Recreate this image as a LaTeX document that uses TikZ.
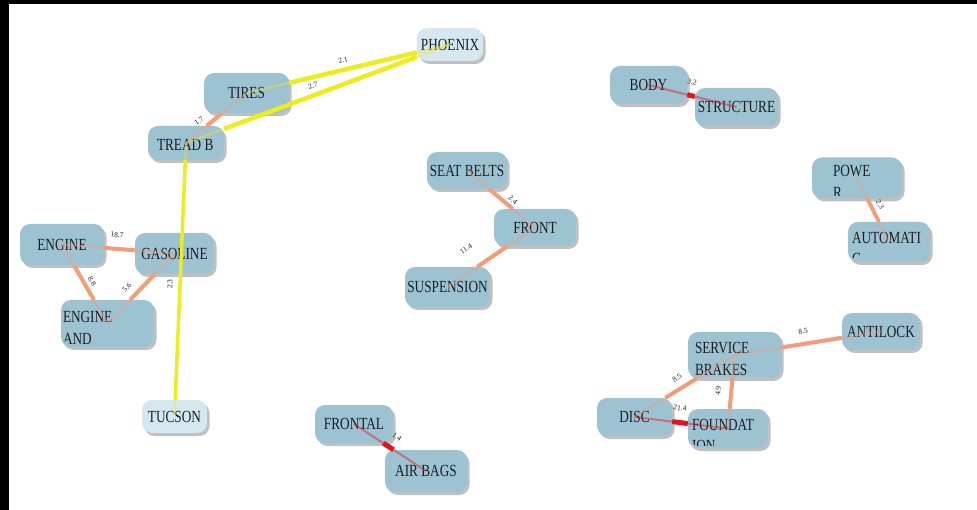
\documentclass[tikz,border=0pt]{standalone}
\usepackage{fontspec}
\setmainfont{Liberation Serif}
\usepackage{graphicx}
\usetikzlibrary{shadows,calc}

\definecolor{boxblue}{HTML}{9DC3D3}
\definecolor{boxpale}{HTML}{D5E8F0}
\definecolor{edgeyellow}{HTML}{ECEC1E}
\definecolor{edgesalmon}{HTML}{F39C78}
\definecolor{edgered}{HTML}{E3141E}
\definecolor{inktext}{HTML}{1A1E22}

\newcommand\boxfont{\fontsize{17}{20}\selectfont}
\newcommand\nlabel[1]{\scalebox{0.78}[1]{#1}}
% two wrapped lines inside a named box, clipped a little above its lower edge
% #1 = box, #2 = left inset, #3 = first baseline below top, #4 = line gap, #5/#6 = lines
\newcommand\wraptext[6]{%
  \begin{scope}
    \clip[rounded corners=10pt] (#1.north west) rectangle ($(#1.south east)+(0,-3)$);
    \node[wrapline] at ($(#1.north west)+(#2,#3)$) {\nlabel{#5}};
    \node[wrapline] at ($(#1.north west)+(#2,#3+#4)$) {\nlabel{#6}};
  \end{scope}}

\tikzset{
  box/.style={rectangle, rounded corners=10pt, fill=boxblue, inner sep=0pt,
    font=\boxfont, text=inktext,
    drop shadow={shadow xshift=2.5pt, shadow yshift=-3pt, opacity=0.35, fill=black!70}},
  palebox/.style={box, fill=boxpale},
  wrapline/.style={anchor=base west, inner sep=0pt, font=\boxfont, text=inktext},
  ylink/.style={draw=edgeyellow, line width=4.5pt},
  slink/.style={draw=edgesalmon, line width=4pt},
  rlink/.style={draw=edgered, line width=5pt},
  ythin/.style={draw=edgeyellow, line width=2pt, opacity=0.45},
  sthin/.style={draw=edgesalmon, line width=2pt, opacity=0.45},
  rthin/.style={draw=edgered, line width=2pt, opacity=0.45},
  elab/.style={font=\fontsize{7.5}{8}\selectfont, text=inktext, inner sep=0pt}
}

\begin{document}
\begin{tikzpicture}[x=1pt, y=-1pt]
  \useasboundingbox (0,0) rectangle (977,510);
  \fill[white] (0,0) rectangle (977,510);
  \fill[black] (0,0) rectangle (977,4);
  \fill[black] (0,0) rectangle (9,510);

  % boxes
  \node[palebox, minimum width=66pt, minimum height=33pt] (phoenix) at (450,44.5) {\nlabel{PHOENIX}};
  \node[box, minimum width=85pt, minimum height=40pt] (tires) at (246.5,93) {\nlabel{TIRES}};
  \node[box, minimum width=76pt, minimum height=34pt] (tread) at (186,143) {};
  \node[box, minimum width=84pt, minimum height=41pt] (engine) at (62,244.5) {\nlabel{ENGINE}};
  \node[box, minimum width=79pt, minimum height=41pt] (gasoline) at (174.5,253.5) {\nlabel{GASOLINE}};
  \node[box, minimum width=93pt, minimum height=47pt] (engand) at (107.5,323.5) {};
  \node[palebox, minimum width=65pt, minimum height=33pt] (tucson) at (174.5,416.5) {\nlabel{TUCSON}};

  \node[box, minimum width=80pt, minimum height=37pt] (seatbelts) at (467,170.5) {\nlabel{SEAT BELTS}};
  \node[box, minimum width=82pt, minimum height=37pt] (front) at (535,227.5) {\nlabel{FRONT}};
  \node[box, minimum width=85pt, minimum height=40pt] (suspension) at (447.5,287) {\nlabel{SUSPENSION}};

  \node[box, minimum width=77pt, minimum height=38pt] (body) at (648.5,85) {\nlabel{BODY}};
  \node[box, minimum width=83pt, minimum height=38pt] (structure) at (736.5,107) {\nlabel{STRUCTURE}};

  \node[box, minimum width=90pt, minimum height=41pt] (power) at (857,178) {};
  \node[box, minimum width=82pt, minimum height=40pt] (automatic) at (889,242) {};

  \node[box, minimum width=78pt, minimum height=37pt] (antilock) at (881,331.5) {\nlabel{ANTILOCK}};
  \node[box, minimum width=93pt, minimum height=46pt] (service) at (734.5,355) {};
  \node[box, minimum width=75pt, minimum height=38pt] (disc) at (634.5,417) {\nlabel{DISC}};
  \node[box, minimum width=80pt, minimum height=39pt] (foundation) at (728,428.5) {};

  \node[box, minimum width=78pt, minimum height=38pt] (frontal) at (354,424) {\nlabel{FRONTAL}};
  \node[box, minimum width=82pt, minimum height=42pt] (airbags) at (426,471) {\nlabel{AIR BAGS}};

  % wrapped box texts
  \wraptext{tread}{9}{24.5}{20}{TREAD B}{ELT}
  \wraptext{engand}{2}{22.5}{22}{ENGINE}{AND}
  \wraptext{power}{21}{19.5}{22}{POWE}{R}
  \wraptext{automatic}{4}{21.5}{21}{AUTOMATI}{C}
  \wraptext{service}{7}{21.5}{22}{SERVICE}{BRAKES}
  \wraptext{foundation}{4}{21.5}{21}{FOUNDAT}{ION}

  % faint centre-to-centre traces across the boxes
  \draw[ythin] (tires.center) -- (phoenix.center);
  \draw[ythin] (tread.center) -- (phoenix.center);
  \draw[ythin] (tread.center) -- (tucson.center);
  \draw[sthin] (tires.center) -- (tread.center);
  \draw[sthin] (engine.center) -- (gasoline.center);
  \draw[sthin] (engine.center) -- (engand.center);
  \draw[sthin] (gasoline.center) -- (engand.center);
  \draw[sthin] (seatbelts.center) -- (front.center);
  \draw[sthin] (front.center) -- (suspension.center);
  \draw[rthin] (body.center) -- (structure.center);
  \draw[sthin] (power.center) -- (automatic.center);
  \draw[sthin] (service.center) -- (antilock.center);
  \draw[sthin] (service.center) -- (disc.center);
  \draw[sthin] (service.center) -- (foundation.center);
  \draw[rthin] (disc.center) -- (foundation.center);
  \draw[rthin] (frontal.center) -- (airbags.center);

  % connectors between box outlines
  \draw[ylink] (tires) -- (phoenix);
  \draw[ylink] (tread) -- (phoenix);
  \draw[ylink, line width=3.5pt] (tread) -- (tucson);
  \draw[slink] (tires) -- (tread);
  \draw[slink] (engine) -- (gasoline);
  \draw[slink] (engine) -- (engand);
  \draw[slink] (gasoline) -- (engand);
  \draw[slink] (seatbelts) -- (front);
  \draw[slink] (front) -- (suspension);
  \draw[rlink] (body) -- (structure);
  \draw[slink] (power) -- (automatic);
  \draw[slink] (service) -- (antilock);
  \draw[slink] (service) -- (disc);
  \draw[slink] (service) -- (foundation);
  \draw[rlink] (disc) -- (foundation);
  \draw[rlink] (frontal) -- (airbags);

  % weights
  \node[elab, rotate=14] (w1) at (343,60) {2.1};
  \node[elab, rotate=21] (w2) at (313,86) {2.7};
  \node[elab, rotate=39] (w3) at (199,121) {1.7};
  \node[elab, rotate=90] (w4) at (170,284) {2.3};
  \node[elab, rotate=-4] (w5) at (117,235) {18.7};
  \node[elab, rotate=-60] (w6) at (92,281) {8.8};
  \node[elab, rotate=46] (w7) at (127,287) {5.6};
  \node[elab, rotate=-40] (w8) at (513,200) {2.4};
  \node[elab, rotate=34] (w9) at (466,249) {11.4};
  \node[elab, rotate=-14] (w10) at (692,82) {3.2};
  \node[elab, rotate=-62] (w11) at (880,205) {2.3};
  \node[elab, rotate=9] (w12) at (803,331) {8.5};
  \node[elab, rotate=32] (w13) at (677,378) {8.5};
  \node[elab, rotate=85] (w14) at (718,391) {4.9};
  \node[elab, rotate=-7] (w15) at (680,408) {21.4};
  \node[elab, rotate=-33] (w16) at (397,437) {1.4};
\end{tikzpicture}
\end{document}
